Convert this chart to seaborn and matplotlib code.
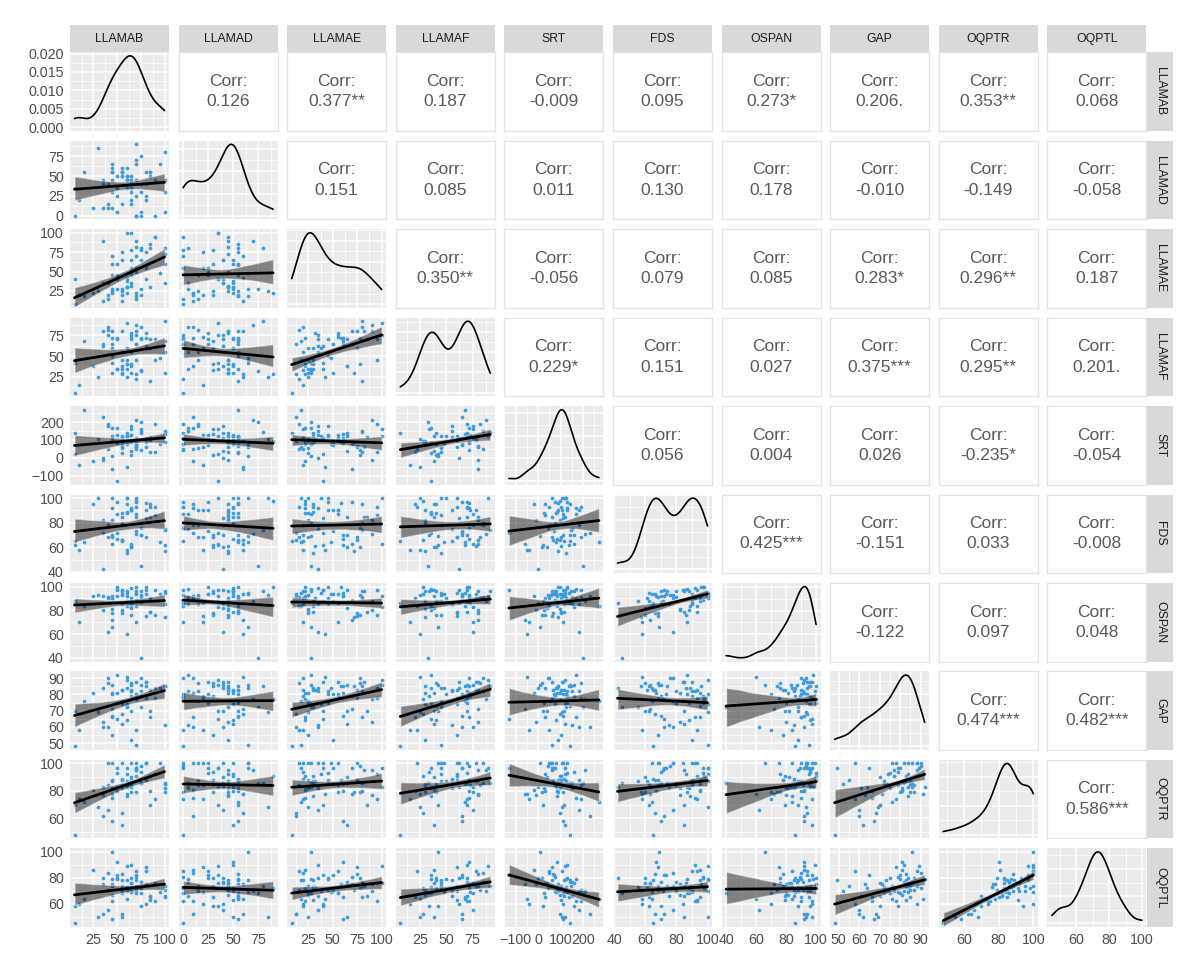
import numpy as np
import pandas as pd
import matplotlib
matplotlib.use("Agg")
import matplotlib.pyplot as plt
import seaborn as sns
from matplotlib.ticker import FixedLocator, MaxNLocator, AutoMinorLocator, FormatStrFormatter
from matplotlib.collections import PolyCollection

sns.set_style("white")
plt.rcParams["font.family"] = ["Liberation Sans", "DejaVu Sans"]

# ---------------- data ----------------
variables = ["LLAMAB", "LLAMAD", "LLAMAE", "LLAMAF", "SRT", "FDS", "OSPAN", "GAP", "OQPTR", "OQPTL"]

LLAMAB = [5, 65, 35, 70, 10, 55, 45, 85, 40,
          60, 5, 70, 45, 75, 35, 50, 55, 100,
          65, 45, 55, 80, 30, 60, 70, 50, 15,
          60, 75, 45, 65, 55, 85, 35, 70, 50,
          70, 55, 65, 90, 45, 75, 60, 100, 65,
          55, 80, 25, 70, 100, 60, 75, 45, 65,
          65, 40, 90, 60, 70, 100, 55, 80, 45,
          75, 60, 95, 50, 85, 65, 40, 80, 70]
LLAMAD = [0, 45, 10, 65, 20, 50, 30, 55, 40,
          50, 35, 0, 55, 75, 45, 25, 60, 5,
          40, 10, 50, 20, 85, 45, 0, 35, 55,
          45, 30, 60, 15, 15, 55, 40, 90, 50,
          25, 55, 45, 0, 65, 5, 50, 45, 20,
          55, 40, 10, 70, 30, 45, 0, 55, 35,
          50, 15, 45, 60, 0, 80, 55, 25, 45,
          40, 35, 65, 5, 50, 30, 10, 55, 45]
LLAMAE = [8, 50, 12, 18, 20, 65, 25, 80, 35,
          22, 40, 15, 60, 28, 90, 45, 12, 35,
          65, 22, 28, 75, 25, 30, 55, 40, 18,
          30, 20, 70, 45, 25, 85, 35, 22, 60,
          50, 25, 32, 95, 28, 80, 38, 72, 55,
          75, 40, 22, 90, 60, 30, 78, 45, 100,
          35, 15, 95, 42, 70, 80, 20, 55, 25,
          65, 100, 48, 28, 30, 78, 20, 58, 82]
LLAMAF = [6, 30, 65, 45, 15, 38, 60, 20, 75,
          40, 42, 22, 65, 32, 80, 70, 28, 55,
          38, 72, 30, 60, 25, 45, 75, 35, 68,
          40, 33, 80, 55, 45, 70, 62, 28, 72,
          65, 35, 78, 70, 42, 85, 60, 30, 73,
          80, 62, 38, 88, 68, 35, 72, 50, 75,
          70, 82, 45, 25, 65, 92, 55, 78, 30,
          70, 90, 48, 35, 60, 40, 85, 72, 80]
SRT = [140, 90, 230, 60, -40, 120, 100, 30, 180,
       80, 20, 50, 110, 200, -10, 130, 95, 150,
       40, 170, 75, 60, 105, 125, 110, -130, 270,
       140, 160, -60, 180, 55, 115, 0, 95, 85,
       70, 25, 100, 190, 10, 150, 120, 90, 130,
       65, 110, -20, 210, 135, 85, 45, 125, 160,
       130, 190, 30, -50, 75, 145, 115, 105, 95,
       140, 120, 80, 170, 100, 15, 50, 90, 60]
FDS = [65, 90, 72, 100, 58, 85, 68, 95, 78,
       88, 62, 93, 70, 45, 82, 97, 66, 75,
       60, 92, 80, 68, 100, 55, 87, 72, 64,
       95, 70, 63, 90, 78, 85, 42, 98, 67,
       73, 88, 61, 93, 69, 80, 100, 57, 90,
       66, 84, 95, 71, 62, 89, 76, 100, 63,
       92, 68, 86, 58, 97, 74, 65, 90, 82,
       70, 100, 64, 87, 93, 60, 78, 96, 85]
OSPAN = [86, 88, 92, 95, 70, 97, 78, 90, 62,
         96, 88, 84, 92, 40, 80, 100, 94, 85,
         82, 90, 96, 75, 93, 88, 70, 97, 84,
         88, 96, 72, 85, 93, 79, 86, 100, 92,
         94, 80, 90, 97, 66, 91, 95, 74, 86,
         78, 97, 92, 88, 95, 84, 93, 90, 83,
         99, 91, 76, 60, 89, 96, 85, 94, 81,
         87, 92, 94, 98, 79, 76, 90, 100, 96]
GAP = [48, 52, 60, 49, 58, 62, 55, 66, 60,
       64, 70, 58, 67, 72, 63, 75, 68, 61,
       70, 66, 74, 78, 69, 72, 80, 65, 76,
       73, 79, 71, 82, 76, 70, 84, 77, 81,
       80, 75, 83, 78, 86, 82, 74, 85, 79,
       83, 88, 81, 77, 85, 84, 90, 80, 86,
       82, 87, 84, 91, 79, 85, 83, 88, 81,
       86, 89, 84, 92, 83, 87, 90, 85, 88]
OQPTR = [48, 85, 62, 97, 74, 55, 88, 80, 66,
         83, 70, 100, 58, 86, 77, 93, 64, 82,
         90, 75, 84, 100, 68, 87, 79, 97, 72,
         85, 94, 78, 88, 100, 70, 83, 91, 80,
         97, 82, 87, 74, 100, 86, 92, 79, 84,
         88, 100, 81, 95, 85, 76, 98, 87, 83,
         100, 84, 92, 78, 97, 86, 89, 100, 82,
         86, 97, 100, 83, 91, 79, 100, 88, 95]
OQPTL = [45, 70, 52, 78, 60, 50, 74, 65, 55,
         72, 58, 85, 48, 68, 75, 80, 52, 66,
         76, 62, 70, 88, 50, 73, 68, 82, 64,
         78, 58, 75, 70, 74, 66, 80, 72, 92,
         82, 68, 73, 62, 100, 77, 70, 71, 69,
         83, 60, 86, 70, 65, 73, 72, 79, 76,
         90, 71, 76, 64, 81, 74, 78, 85, 67,
         77, 89, 69, 79, 63, 80, 84, 75, 74]

# printed correlation labels (upper triangle, row-major)
corr_labels = [
    "0.126", "0.377**", "0.187", "-0.009", "0.095", "0.273*", "0.206.", "0.353**", "0.068",
    "0.151", "0.085", "0.011", "0.130", "0.178", "-0.010", "-0.149", "-0.058",
    "0.350**", "-0.056", "0.079", "0.085", "0.283*", "0.296**", "0.187",
    "0.229*", "0.151", "0.027", "0.375***", "0.295**", "0.201.",
    "0.056", "0.004", "0.026", "-0.235*", "-0.054",
    "0.425***", "-0.151", "0.033", "-0.008",
    "-0.122", "0.097", "0.048",
    "0.474***", "0.482***",
    "0.586***",
]

# axis tick labels per variable
ticks_LLAMAB = [25, 50, 75, 100]
ticks_LLAMAD = [0, 25, 50, 75]
ticks_LLAMAE = [25, 50, 75, 100]
ticks_LLAMAF = [25, 50, 75]
ticks_SRT = [-100, 0, 100, 200]
ticks_FDS = [40, 60, 80, 100]
ticks_OSPAN = [40, 60, 80, 100]
ticks_GAP = [50, 60, 70, 80, 90]
ticks_OQPTR = [60, 80, 100]
ticks_OQPTL = [60, 80, 100]
ticks_density0 = [0.0, 0.005, 0.010, 0.015, 0.020]

df = pd.DataFrame({"LLAMAB": LLAMAB, "LLAMAD": LLAMAD, "LLAMAE": LLAMAE, "LLAMAF": LLAMAF,
                   "SRT": SRT, "FDS": FDS, "OSPAN": OSPAN, "GAP": GAP,
                   "OQPTR": OQPTR, "OQPTL": OQPTL})
ticks = {"LLAMAB": ticks_LLAMAB, "LLAMAD": ticks_LLAMAD, "LLAMAE": ticks_LLAMAE,
         "LLAMAF": ticks_LLAMAF, "SRT": ticks_SRT, "FDS": ticks_FDS, "OSPAN": ticks_OSPAN,
         "GAP": ticks_GAP, "OQPTR": ticks_OQPTR, "OQPTL": ticks_OQPTL}

# ---------------- layout ----------------
W, H = 1200, 977
fig = plt.figure(figsize=(W / 100, H / 100), dpi=100)
X0, PX, PW = 70.0, 108.6, 99.0
Y0, PY, PH = 52.3, 88.45, 78.5
STRIP_H = 27.0
STRIP_W = 26.0

PANEL_BG = "#EBEBEB"
POINT_C = "#3D9BE0"
TICK_LABEL_C = "#4D4D4D"
n = len(variables)


def add_ax(l, t, w, h):
    return fig.add_axes([l / W, 1 - (t + h) / H, w / W, h / H])


def lims(v):
    lo, hi = df[v].min(), df[v].max()
    r = hi - lo
    return lo - 0.05 * r, hi + 0.05 * r


def minor_from(major):
    step = major[1] - major[0]
    ext = [major[0] - step] + list(major) + [major[-1] + step]
    return [(a + b) / 2 for a, b in zip(ext[:-1], ext[1:])]


corr_iter = iter(corr_labels)

for i, vy in enumerate(variables):
    for j, vx in enumerate(variables):
        ax = add_ax(X0 + j * PX, Y0 + i * PY, PW, PH)
        if j > i:
            ax.set_facecolor("white")
            ax.set_xticks([])
            ax.set_yticks([])
            for s in ax.spines.values():
                s.set_color("#E3E3E3")
                s.set_linewidth(0.9)
            lab = next(corr_iter)
            ax.text(0.5, 0.5, "Corr:\n" + lab, ha="center", va="center",
                    fontsize=12.5, color="#595959", linespacing=1.45,
                    transform=ax.transAxes)
            continue

        ax.set_facecolor(PANEL_BG)
        ax.set_axisbelow(True)
        if i == j:
            sns.kdeplot(x=df[vx], ax=ax, color="black", lw=1.2, cut=0, bw_adjust=0.85)
            ymax = max(l.get_ydata().max() for l in ax.get_lines())
            ax.set_ylim(-0.05 * ymax, ymax * 1.05)
            if i == 0:
                ax.yaxis.set_major_locator(FixedLocator(ticks_density0))
                ax.yaxis.set_minor_locator(FixedLocator(minor_from(ticks_density0)))
                ax.yaxis.set_major_formatter(FormatStrFormatter("%.3f"))
            else:
                ax.yaxis.set_major_locator(MaxNLocator(nbins=4))
                ax.yaxis.set_minor_locator(AutoMinorLocator(2))
        else:
            sns.regplot(x=vx, y=vy, data=df, ax=ax, ci=95, seed=3, n_boot=1000,
                        scatter_kws={"s": 7, "color": POINT_C, "linewidths": 0, "alpha": 1},
                        line_kws={"color": "black", "lw": 2.0})
            for c in ax.collections:
                if isinstance(c, PolyCollection):
                    c.set_alpha(0.45)
            ax.set_ylim(*lims(vy))
            ax.yaxis.set_major_locator(FixedLocator(ticks[vy]))
            ax.yaxis.set_minor_locator(FixedLocator(minor_from(ticks[vy])))

        ax.set_xlim(*lims(vx))
        ax.xaxis.set_major_locator(FixedLocator(ticks[vx]))
        ax.xaxis.set_minor_locator(FixedLocator(minor_from(ticks[vx])))
        ax.grid(which="major", color="white", lw=1.1)
        ax.grid(which="minor", color="white", lw=0.55)
        for s in ax.spines.values():
            s.set_visible(False)
        ax.set_xlabel("")
        ax.set_ylabel("")
        ax.tick_params(which="minor", length=0)
        ax.tick_params(which="major", direction="out", length=3, width=0.7,
                       color="#333333", labelsize=10.3, labelcolor=TICK_LABEL_C, pad=1.5)
        if i != n - 1:
            ax.tick_params(axis="x", which="major", length=0, labelbottom=False)
        if j != 0:
            ax.tick_params(axis="y", which="major", length=0, labelleft=False)

# strips
for j, v in enumerate(variables):
    sax = add_ax(X0 + j * PX, Y0 - STRIP_H, PW, STRIP_H)
    sax.set_facecolor("#D9D9D9")
    sax.set_xticks([]); sax.set_yticks([])
    for s in sax.spines.values():
        s.set_visible(False)
    sax.text(0.5, 0.5, v, ha="center", va="center", fontsize=8.8, color="#1A1A1A",
             transform=sax.transAxes)
for i, v in enumerate(variables):
    sax = add_ax(X0 + (n - 1) * PX + PW + 1.0, Y0 + i * PY, STRIP_W, PH)
    sax.set_facecolor("#D9D9D9")
    sax.set_xticks([]); sax.set_yticks([])
    for s in sax.spines.values():
        s.set_visible(False)
    sax.text(0.5, 0.5, v, ha="center", va="center", fontsize=8.8, color="#1A1A1A",
             rotation=-90, transform=sax.transAxes)

fig.savefig("out.png", dpi=100, facecolor="white")
